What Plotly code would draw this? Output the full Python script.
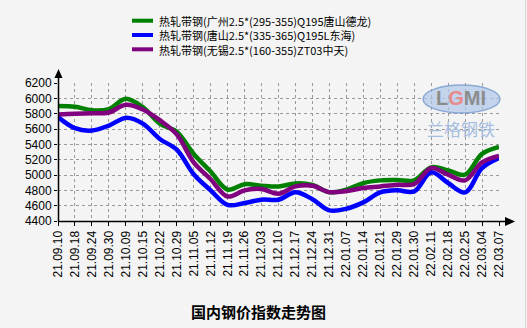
import plotly.graph_objects as go

categories = ["21.09.10", "21.09.18", "21.09.24", "21.09.30", "21.10.09", "21.10.15", "21.10.22",
              "21.10.29", "21.11.05", "21.11.12", "21.11.19", "21.11.26", "21.12.03", "21.12.10",
              "21.12.17", "21.12.24", "21.12.31", "22.01.07", "22.01.14", "22.01.21", "22.01.29",
              "22.01.30", "22.02.11", "22.02.18", "22.02.25", "22.03.04", "22.03.07"]

guangzhou = [5900, 5890, 5845, 5860, 5995, 5885, 5670, 5565, 5275, 5045, 4810, 4880, 4860, 4850,
             4890, 4870, 4775, 4810, 4895, 4930, 4935, 4930, 5100, 5060, 5005, 5275, 5365]
tangshan = [5755, 5610, 5580, 5645, 5745, 5670, 5470, 5330, 5010, 4800, 4610, 4635, 4678, 4678,
            4775, 4685, 4538, 4560, 4643, 4773, 4800, 4786, 5035, 4895, 4773, 5090, 5220]
wuxi = [5790, 5800, 5805, 5815, 5915, 5855, 5715, 5530, 5165, 4945, 4720, 4800, 4817, 4756,
        4851, 4860, 4777, 4790, 4830, 4851, 4873, 4882, 5090, 5004, 4930, 5164, 5250]

series_names = ["热轧带钢(广州2.5*(295-355)Q195唐山德龙)",
                "热轧带钢(唐山2.5*(335-365)Q195L东海)",
                "热轧带钢(无锡2.5*(160-355)ZT03中天)"]
series_values = [guangzhou, tangshan, wuxi]
series_colors = ["#008000", "#0000FF", "#800080"]

y_ticks = [4400, 4600, 4800, 5000, 5200, 5400, 5600, 5800, 6000, 6200]
title_text = "国内钢价指数走势图"

W, H = 527, 328
L, R, T, B = 58, 28, 83, 107
PW, PH = W - L - R, H - T - B


def px(x):
    return (x - L) / PW


def py(y):
    return (H - B - y) / PH


fig = go.Figure()
for name, vals, col in zip(series_names, series_values, series_colors):
    fig.add_trace(go.Scatter(x=categories, y=vals, mode="lines", name=name,
                             line=dict(color=col, width=4.5, shape="spline", smoothing=1.0),
                             showlegend=False))

shapes = []
annotations = []

# axes lines with arrows
shapes.append(dict(type="line", xref="paper", yref="paper", x0=px(58.5), x1=px(58.5),
                   y0=py(221.5), y1=py(77), line=dict(color="black", width=1.5)))
shapes.append(dict(type="line", xref="paper", yref="paper", x0=px(58), x1=px(506),
                   y0=py(221.5), y1=py(221.5), line=dict(color="black", width=1.5)))
shapes.append(dict(type="path", xref="paper", yref="paper",
                   path=f"M {px(58.5)} {py(69)} L {px(54.5)} {py(78)} L {px(62.5)} {py(78)} Z",
                   fillcolor="black", line=dict(width=0)))
shapes.append(dict(type="path", xref="paper", yref="paper",
                   path=f"M {px(515)} {py(221.5)} L {px(505)} {py(217)} L {px(505)} {py(226)} Z",
                   fillcolor="black", line=dict(width=0)))

# legend drawn manually: one text block, three line keys
leg_size = 11
leg_center = 35
leg_step = leg_size * 1.3
for i, col in enumerate(series_colors):
    ly = leg_center + (i - 1) * leg_step
    shapes.append(dict(type="line", xref="paper", yref="paper", x0=px(132), x1=px(153),
                       y0=py(ly), y1=py(ly), line=dict(color=col, width=4)))
annotations.append(dict(text="<br>".join(series_names), xref="paper", yref="paper",
                        x=px(157), y=py(leg_center), xanchor="left", yanchor="middle",
                        align="left", showarrow=False,
                        font=dict(family="Noto Sans CJK SC", size=leg_size, color="black")))

# watermark logo
shapes.append(dict(type="circle", xref="paper", yref="paper", x0=px(423), x1=px(500),
                   y0=py(113), y1=py(85), fillcolor="rgba(175,198,232,0.7)",
                   line=dict(color="rgba(120,155,205,0.8)", width=1.5), layer="above"))
annotations.append(dict(text="<b>L<span style='color:#e88a8a'>G</span>MI</b>", xref="paper", yref="paper",
                        x=px(461), y=py(98), showarrow=False, xanchor="center", yanchor="middle",
                        font=dict(family="Liberation Sans", size=20, color="#8c8c8c")))
annotations.append(dict(text="兰格钢铁", xref="paper", yref="paper", x=px(461), y=py(128),
                        showarrow=False, xanchor="center", yanchor="middle",
                        font=dict(family="Noto Sans CJK SC", size=17, color="#a4bde0")))

# bottom title
annotations.append(dict(text="<b>" + title_text + "</b>", xref="paper", yref="paper",
                        x=px(258), y=py(311), showarrow=False, xanchor="center", yanchor="middle",
                        font=dict(family="Noto Sans CJK SC", size=15, color="black")))

# right edge border
shapes.append(dict(type="line", xref="paper", yref="paper", x0=px(525.5), x1=px(525.5),
                   y0=py(0), y1=py(328), line=dict(color="#d8d8d8", width=1)))

fig.update_layout(
    width=W, height=H,
    margin=dict(l=L, r=R, t=T, b=B, pad=0),
    paper_bgcolor="#f4f4f4", plot_bgcolor="#f4f4f4",
    showlegend=False,
    shapes=shapes, annotations=annotations,
    xaxis=dict(type="category", range=[0, len(categories) - 1], tickangle=-90,
               showgrid=True, gridcolor="#9a9a9a", griddash="dot", gridwidth=1,
               ticks="outside", ticklen=4, tickcolor="black", showline=False, zeroline=False,
               tickfont=dict(family="Liberation Sans", size=12, color="black")),
    yaxis=dict(range=[y_ticks[0], y_ticks[-1]], tickvals=y_ticks,
               showgrid=True, gridcolor="#9a9a9a", griddash="dot", gridwidth=1,
               ticks="outside", ticklen=3, tickcolor="black", showline=False, zeroline=False,
               tickfont=dict(family="Liberation Sans", size=12, color="black")),
)

fig.write_html("out.html")
